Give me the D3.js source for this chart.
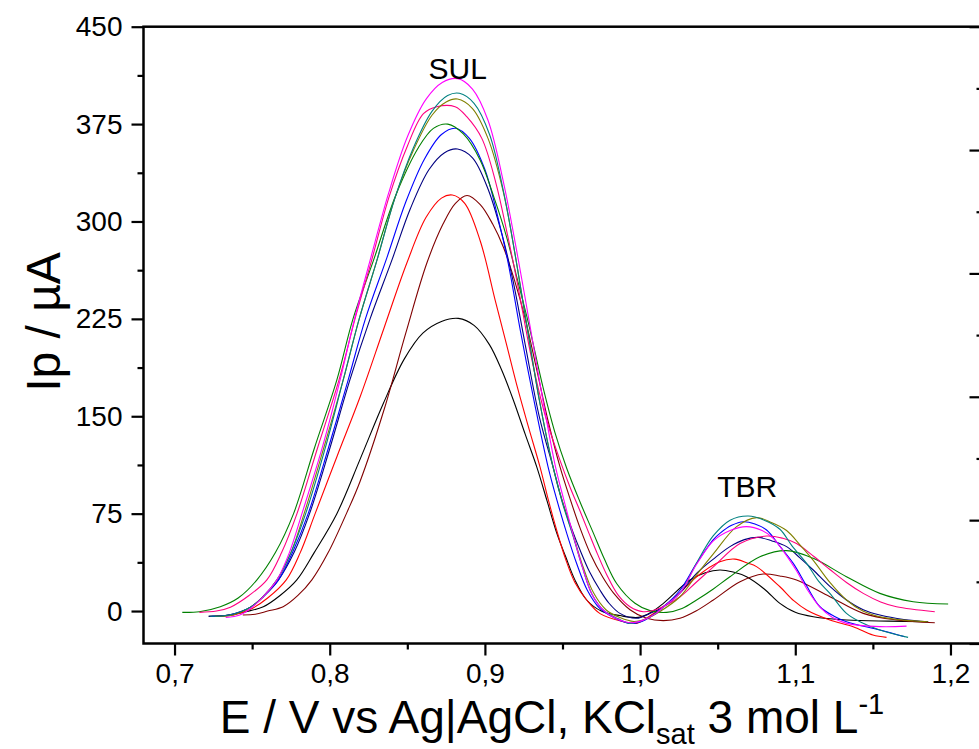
<!DOCTYPE html>
<html><head><meta charset="utf-8">
<script src="https://cdn.jsdelivr.net/npm/d3@7"></script>
<style>
body{margin:0;background:#fff;}
text{font-family:"Liberation Sans",Arial,sans-serif;fill:#000;}
</style></head>
<body><svg id="chart" width="979" height="749"></svg>
<script>
// ---- data (E / V, Ip / µA) ----
const xTicks = [0.7, 0.8, 0.9, 1.0, 1.1, 1.2];
const xMinorTicks = [0.75, 0.85, 0.95, 1.05, 1.15];
const yTicks = [0, 75, 150, 225, 300, 375, 450];
const yMinorTicks = [37.5, 112.5, 187.5, 262.5, 337.5, 412.5];
const rightTicks = [0, 20, 40, 60, 80, 100];
const rightMinorTicks = [10, 30, 50, 70, 90];

const blackCurve = [[0.722,-4],[0.735,-3],[0.746,-0.5],[0.7572,3.3],[0.768,12],[0.7788,24],[0.790,45],[0.8046,75],[0.8196,117],[0.8346,160],[0.848,194],[0.860,214],[0.872,223],[0.8829,225.4],[0.893,220],[0.903,205],[0.911,185],[0.9183,162.5],[0.926,136],[0.9334,111],[0.940,85],[0.9463,60],[0.952,42],[0.958,24],[0.9656,8.5],[0.975,0],[0.987,-3.5],[0.9989,-4.9],[1.007,-1],[1.015,5.9],[1.0321,23.9],[1.042,29.5],[1.0514,31.6],[1.060,30],[1.0686,26.4],[1.080,17],[1.0901,5.9],[1.100,-1],[1.1116,-4.4],[1.133,-6.9],[1.160,-7.8],[1.1856,-8.2]];
const redCurve = [[0.726,-4],[0.738,-3],[0.750,2],[0.760,10],[0.772,24],[0.781,45],[0.7906,75],[0.805,120],[0.8196,165],[0.835,218],[0.8497,268],[0.862,303],[0.872,318],[0.879,320.4],[0.887,314],[0.897,285],[0.9066,239.5],[0.914,205],[0.921,172],[0.928,142],[0.9355,111],[0.941,85],[0.9463,62],[0.952,40],[0.958,22],[0.9656,8.5],[0.9742,-2],[0.9892,-8.2],[0.9978,-9.5],[1.006,-4],[1.015,3.3],[1.0257,14],[1.0364,26.4],[1.0514,38],[1.0611,40],[1.069,37],[1.075,34.2],[1.0901,18.7],[1.099,8],[1.1073,0.8],[1.1223,-6.9],[1.1373,-12.1],[1.150,-18.5],[1.1588,-20.3]];
const blueCurve = [[0.724,-4],[0.736,-3],[0.749,3],[0.758,12],[0.767,24],[0.776,45],[0.7861,75],[0.799,125],[0.8119,178],[0.823,225],[0.8368,272],[0.849,315],[0.861,348],[0.872,367],[0.881,371.8],[0.890,364],[0.900,340],[0.908,305],[0.915,268],[0.923,215],[0.932,160],[0.9407,111],[0.9465,85],[0.9527,60],[0.959,37],[0.966,16],[0.974,2],[0.983,-5],[0.9935,-9.5],[1.003,-7],[1.015,3.3],[1.0257,16],[1.0364,36.7],[1.0472,55],[1.0514,59.8],[1.059,66],[1.0665,68.8],[1.074,67],[1.0815,62.4],[1.090,50],[1.0987,36.7],[1.107,20],[1.1159,3.3],[1.125,-4],[1.133,-8.2],[1.1545,-14.6],[1.1706,-19.8]];
const magentaCurve = [[0.733,-5],[0.742,-3],[0.749,2],[0.757,11],[0.766,24],[0.774,45],[0.7821,75],[0.795,125],[0.8067,178],[0.816,225],[0.826,270],[0.838,322],[0.850,365],[0.862,394],[0.8725,407],[0.8825,410],[0.892,402],[0.902,378],[0.912,330],[0.9216,270],[0.929,220],[0.937,165],[0.9455,111],[0.951,85],[0.957,58],[0.963,33],[0.969,13],[0.976,1],[0.985,-6],[0.9935,-9],[1.002,-7],[1.010,-2],[1.015,3],[1.0257,14],[1.0364,36],[1.0472,54],[1.058,62],[1.0686,65],[1.0786,62],[1.0858,56],[1.093,45],[1.1008,31],[1.108,16],[1.1159,3],[1.124,-5],[1.133,-9.5],[1.1545,-12],[1.1717,-11.6]];
const oliveCurve = [[0.726,-4],[0.738,-3],[0.749,3],[0.757,11],[0.766,24],[0.775,45],[0.7835,75],[0.796,125],[0.8087,178],[0.819,225],[0.8304,270],[0.842,318],[0.854,355],[0.866,382],[0.875,392],[0.8823,394.3],[0.892,387],[0.902,364],[0.912,322],[0.9194,275],[0.927,220],[0.935,163],[0.9439,111],[0.950,84],[0.957,58],[0.963,35],[0.970,14],[0.978,1],[0.987,-5],[0.996,-8],[1.004,-6],[1.012,-1],[1.0257,11],[1.0365,28],[1.0472,44],[1.0622,65],[1.0751,71.9],[1.085,68],[1.0944,62],[1.103,51],[1.1116,39],[1.1223,22],[1.133,8.5],[1.1435,0],[1.1545,-4.4],[1.170,-7],[1.1856,-8.2]];
const navyCurve = [[0.722,-4],[0.735,-3],[0.749,3],[0.758,12],[0.767,24],[0.777,45],[0.787,75],[0.800,125],[0.813,178],[0.826,225],[0.840,270],[0.852,310],[0.864,340],[0.874,353],[0.8823,355.8],[0.892,349],[0.902,325],[0.911,290],[0.918,255],[0.926,205],[0.935,150],[0.9439,111],[0.950,84],[0.957,60],[0.9613,47],[0.9675,30],[0.9742,16],[0.980,6],[0.987,-1.8],[0.9978,-5.6],[1.006,-2],[1.015,3.3],[1.0257,14],[1.0364,29],[1.0472,40],[1.0579,49.6],[1.0672,55],[1.0762,56.7],[1.085,54],[1.0944,49.6],[1.103,41],[1.1116,31.6],[1.1223,19],[1.133,8.5],[1.1438,1],[1.1545,-3.1],[1.170,-6.5],[1.1856,-8.2]];
const tealCurve = [[0.723,-4],[0.735,-3],[0.749,3],[0.757,11],[0.766,24],[0.775,45],[0.7845,75],[0.797,125],[0.8087,178],[0.819,225],[0.8304,270],[0.842,318],[0.854,357],[0.866,385],[0.876,397],[0.8836,398.7],[0.893,391],[0.903,367],[0.912,323],[0.9194,275],[0.927,220],[0.935,163],[0.9439,111],[0.950,83],[0.957,57],[0.963,33],[0.969,13],[0.977,0],[0.986,-6],[0.9935,-9.5],[1.002,-7],[1.010,-2],[1.015,3],[1.0257,14],[1.0364,37],[1.0472,58],[1.058,70],[1.0697,73.2],[1.080,70],[1.0901,63],[1.098,50],[1.1073,36.7],[1.115,23],[1.1223,13.6],[1.133,-1.8],[1.143,-9],[1.1545,-14.6],[1.1727,-20.3]];
const maroonCurve = [[0.744,-3],[0.752,-2.5],[0.760,0],[0.770,3.3],[0.7795,12],[0.7885,24],[0.799,45],[0.8111,76],[0.8196,100],[0.835,155],[0.849,214],[0.8626,268],[0.873,298],[0.881,314],[0.8885,320],[0.897,313],[0.905,298],[0.912,280],[0.919,255],[0.926,225],[0.933,188],[0.941,145],[0.9484,111],[0.955,86],[0.9613,64],[0.968,44],[0.976,26],[0.9828,14],[0.9935,1],[1.0042,-5.6],[1.015,-7.4],[1.0257,-5.6],[1.036,0],[1.0472,8.5],[1.0644,22.6],[1.0794,28.5],[1.090,27],[1.1008,23.9],[1.1223,11],[1.1438,-1.8],[1.1652,-6.9],[1.1899,-9]];
const greenCurve = [[0.705,-1],[0.716,-0.5],[0.7295,3.3],[0.741,10],[0.7531,24],[0.765,45],[0.7767,75],[0.790,125],[0.8046,178],[0.815,225],[0.8282,270],[0.8425,320],[0.8572,357],[0.8668,371.7],[0.8761,375],[0.8861,367.4],[0.8969,347.4],[0.906,318],[0.914,288],[0.921,255],[0.928,222],[0.9375,172],[0.945,138],[0.9527,110],[0.9613,84],[0.9699,60],[0.977,40],[0.985,21],[0.9967,6],[1.0064,0.3],[1.0171,-1],[1.027,2],[1.0364,8.5],[1.0472,17],[1.0579,26.4],[1.0772,41.8],[1.0944,46.5],[1.1116,40.6],[1.133,26.4],[1.1545,13.6],[1.176,7.2],[1.1985,5.4]];
const pinkCurve = [[0.716,-1],[0.727,0],[0.736,3],[0.748,12],[0.7595,24],[0.769,45],[0.7789,75],[0.792,125],[0.806,178],[0.817,228],[0.827,270],[0.838,318],[0.850,358],[0.8604,383],[0.869,388.4],[0.8808,388.4],[0.8883,380.7],[0.898,364],[0.907,330],[0.9145,290],[0.921,252],[0.930,195],[0.939,150],[0.9484,116],[0.955,95],[0.9613,77],[0.967,60],[0.9725,44],[0.9785,28],[0.986,12],[0.9935,3.3],[1.002,-0.5],[1.010,1],[1.0257,11],[1.036,22],[1.0472,34],[1.0644,52],[1.0815,57.8],[1.092,56],[1.1008,52],[1.112,42],[1.1223,32],[1.133,22],[1.1438,13.6],[1.155,7],[1.1652,3.3],[1.1899,-0.5]];

const seriesData = [blackCurve, maroonCurve, redCurve, navyCurve, blueCurve, greenCurve, pinkCurve, oliveCurve, tealCurve, magentaCurve];
const seriesColors = ["#000000", "#800000", "#FF0000", "#000080", "#0000FF", "#008000", "#FF0080", "#808000", "#008080", "#FF00FF"];

const peakLabels = [{text: "SUL", x: 0.8825, y: 410}, {text: "TBR", x: 1.069, y: 88}];

// ---- drawing ----
const svg = d3.select("#chart");
const x = d3.scaleLinear().domain([0.68, 1.22]).range([143.5, 981.5]);
const y = d3.scaleLinear().domain([-25, 450]).range([643.5, 26.7]);
const yR = d3.scaleLinear().domain([0, 100]).range([643.5, 26.7]);

const loc = d3.formatLocale({decimal: ",", thousands: ".", grouping: [3], currency: ["", ""]});
const fmtX = loc.format(".1f");

// curves
const line = d3.line().x(d => x(d[0])).y(d => y(d[1])).curve(d3.curveCatmullRom.alpha(0.5));
svg.append("g").selectAll("path").data(seriesData).join("path")
  .attr("d", line).attr("fill", "none")
  .attr("stroke", (d, i) => seriesColors[i]).attr("stroke-width", 1.1);

// axes
function styleAxis(g) {
  g.select(".domain").remove();
  g.selectAll(".tick line").attr("stroke", "#000").attr("stroke-width", 2.2);
  g.selectAll(".tick text").attr("font-size", 28).attr("font-family", "Liberation Sans, Arial, sans-serif").attr("fill", "#000");
}
svg.append("g").attr("transform", `translate(0,${y(-25)})`)
  .call(d3.axisBottom(x).tickValues(xTicks).tickSize(12).tickPadding(8).tickFormat(fmtX)).call(styleAxis);
svg.append("g").attr("transform", `translate(0,${y(-25)})`)
  .call(d3.axisBottom(x).tickValues(xMinorTicks).tickSize(6).tickFormat("")).call(styleAxis);
svg.append("g").attr("transform", `translate(${x(0.68)},0)`)
  .call(d3.axisLeft(y).tickValues(yTicks).tickSize(12).tickPadding(9)).call(styleAxis);
svg.append("g").attr("transform", `translate(${x(0.68)},0)`)
  .call(d3.axisLeft(y).tickValues(yMinorTicks).tickSize(6).tickFormat("")).call(styleAxis);
svg.append("g").attr("transform", `translate(${x(1.22)},0)`)
  .call(d3.axisLeft(yR).tickValues(rightTicks).tickSize(12).tickFormat("")).call(styleAxis);
svg.append("g").attr("transform", `translate(${x(1.22)},0)`)
  .call(d3.axisLeft(yR).tickValues(rightMinorTicks).tickSize(5).tickFormat("")).call(styleAxis);

// frame
svg.append("rect").attr("x", x(0.68)).attr("y", y(450))
  .attr("width", x(1.22) - x(0.68)).attr("height", y(-25) - y(450))
  .attr("fill", "none").attr("stroke", "#000").attr("stroke-width", 2.5);

// peak labels
svg.append("g").selectAll("text").data(peakLabels).join("text")
  .attr("x", d => x(d.x)).attr("y", d => y(d.y)).attr("text-anchor", "middle")
  .attr("font-size", 30).text(d => d.text);

// axis titles
const xt = svg.append("text").attr("x", 552).attr("y", 733).attr("text-anchor", "middle").attr("font-size", 46);
xt.append("tspan").text("E / V vs Ag|AgCl, KCl");
xt.append("tspan").attr("font-size", 29).attr("dy", 11).text("sat");
xt.append("tspan").attr("dy", -11).text(" 3 mol L");
xt.append("tspan").attr("font-size", 29).attr("dy", -19).text("-1");

svg.append("text").attr("transform", "translate(60,322) rotate(-90)")
  .attr("text-anchor", "middle").attr("font-size", 48).text("Ip / µA");
</script></body></html>
